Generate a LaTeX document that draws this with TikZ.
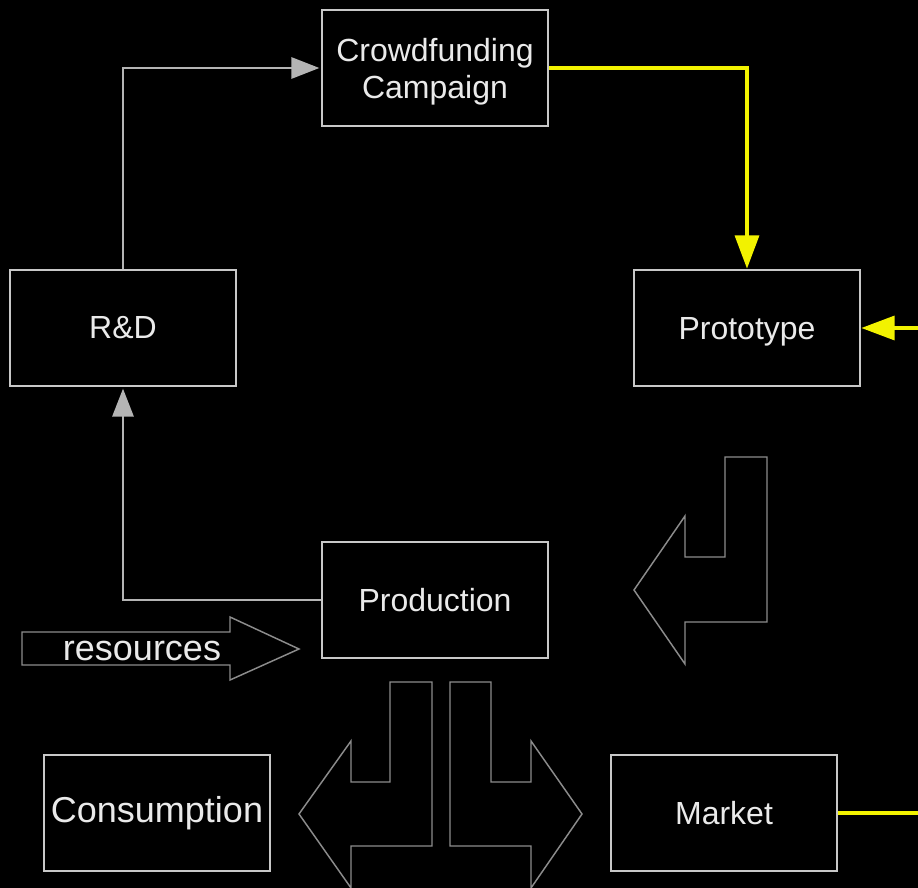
\documentclass[tikz,border=0pt]{standalone}
\usepackage{fontspec}
\setmainfont{Liberation Sans}
\usetikzlibrary{arrows.meta}
\definecolor{boxgray}{HTML}{C8C8C8}
\definecolor{linegray}{HTML}{B4B4B4}
\definecolor{shapegray}{HTML}{8C8C8C}
\definecolor{txt}{HTML}{EAEAEA}
\definecolor{yel}{HTML}{F2F200}
\tikzset{
  boxnode/.style={draw=boxgray, line width=2pt, fill=black, text=txt,
    minimum width=169.5pt, minimum height=87pt, inner sep=0pt, align=center,
    font=\fontsize{24}{28}\selectfont},
  grayconn/.style={draw=linegray, line width=1.5pt,
    -{Triangle[length=21pt,width=16pt]}, shorten >=1pt},
  yelconn/.style={draw=yel, line width=2.6pt,
    -{Triangle[length=25pt,width=18pt]}},
  yelline/.style={draw=yel, line width=2.6pt},
  bigshape/.style={draw=shapegray, line width=1.1pt, line join=miter}
}
\begin{document}
\begin{tikzpicture}[x=0.75pt,y=-0.75pt]
\fill[black] (0,0) rectangle (918,888);
\useasboundingbox (0,0) rectangle (918,888);

% boxes
\node[boxnode] (crowd) at (435,68) {\raisebox{-3pt}[\height][\depth]{\shortstack{Crowdfunding\\[2.5pt]Campaign}}};
\node[boxnode] (rd) at (123,328) {R\&D};
\node[boxnode] (proto) at (747,328) {\raisebox{-3pt}[\height][\depth]{Prototype}};
\node[boxnode] (prod) at (435,600) {Production};
\node[boxnode, font=\fontsize{27}{32}\selectfont] (cons) at (157,813) {Consumption};
\node[boxnode] (market) at (724,813) {Market};

\coordinate (rin) at (918,328);
\coordinate (mout) at (918,813);

% connectors
\draw[grayconn] (prod.west) -| (rd.south);
\draw[grayconn] (rd.north) |- (crowd.west);
\draw[yelconn] (crowd.east) -| (proto.north);
\draw[yelconn] (rin) -- (proto.east);
\draw[yelline] (market.east) -- (mout);

% bent arrow right side
\draw[bigshape] (725,457) -- (767,457) -- (767,622) -- (685,622) -- (685,664)
  -- (634,590) -- (685,516) -- (685,557) -- (725,557) -- cycle;

% bent arrows below production
\draw[bigshape] (390,682) -- (432,682) -- (432,846) -- (351,846) -- (351,888)
  -- (299,814) -- (351,741) -- (351,782) -- (390,782) -- cycle;
\draw[bigshape] (491,682) -- (450,682) -- (450,846) -- (531,846) -- (531,888)
  -- (582,814) -- (531,741) -- (531,782) -- (491,782) -- cycle;

% resources arrow
\draw[bigshape] (22,632) -- (230,632) -- (230,617) -- (299,649) -- (230,680)
  -- (230,665) -- (22,665) -- cycle;
\node[text=txt, font=\fontsize{27}{32}\selectfont, inner sep=0pt] (res) at (142,651) {resources};
\end{tikzpicture}
\end{document}
